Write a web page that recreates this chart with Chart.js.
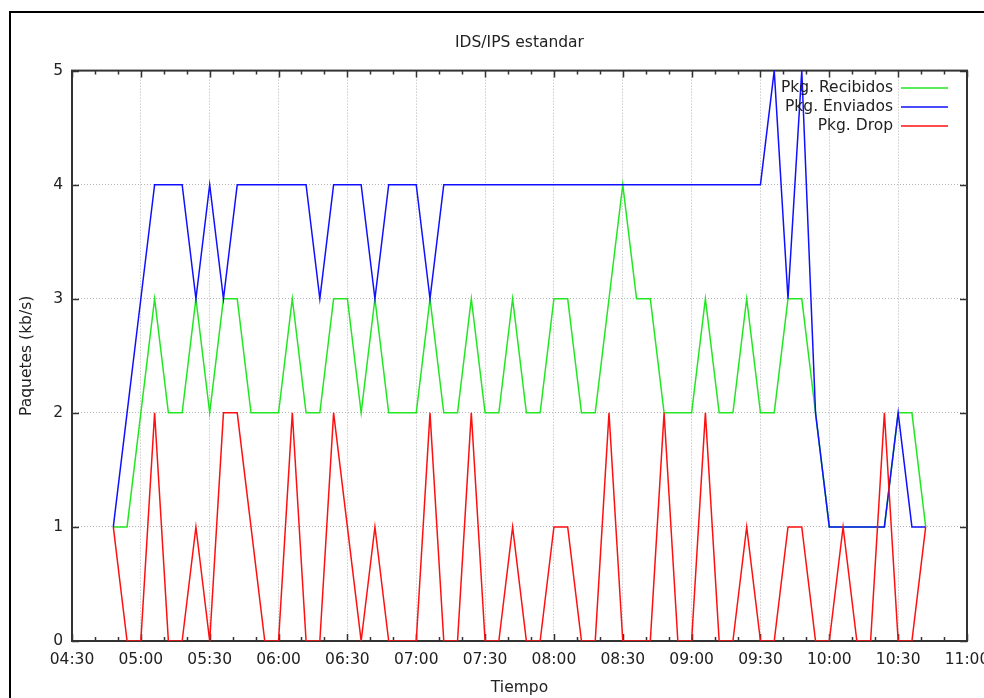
<!DOCTYPE html>
<html>
<head>
<meta charset="utf-8">
<title>IDS/IPS estandar</title>
<script src="https://cdn.jsdelivr.net/npm/chart.js@4/dist/chart.umd.min.js"></script>
<style>
  html, body { margin: 0; padding: 0; background: #ffffff; }
  canvas { display: block; }
</style>
</head>
<body>
<canvas id="grafico" width="984" height="698"></canvas>
<script>
// Muestras cada 6 minutos
const horas = [
  '04:48','04:54','05:00','05:06','05:12','05:18','05:24','05:30','05:36','05:42',
  '05:48','05:54','06:00','06:06','06:12','06:18','06:24','06:30','06:36','06:42',
  '06:48','06:54','07:00','07:06','07:12','07:18','07:24','07:30','07:36','07:42',
  '07:48','07:54','08:00','08:06','08:12','08:18','08:24','08:30','08:36','08:42',
  '08:48','08:54','09:00','09:06','09:12','09:18','09:24','09:30','09:36','09:42',
  '09:48','09:54','10:00','10:06','10:12','10:18','10:24','10:30','10:36','10:42'
];

const recibidos = [
  1,1,2,3,2,2,3,2,3,3,
  2,2,2,3,2,2,3,3,2,3,
  2,2,2,3,2,2,3,2,2,3,
  2,2,3,3,2,2,3,4,3,3,
  2,2,2,3,2,2,3,2,2,3,
  3,2,1,1,1,1,1,2,2,1
];

const enviados = [
  1,2,3,4,4,4,3,4,3,4,
  4,4,4,4,4,3,4,4,4,3,
  4,4,4,3,4,4,4,4,4,4,
  4,4,4,4,4,4,4,4,4,4,
  4,4,4,4,4,4,4,4,5,3,
  5,2,1,1,1,1,1,2,1,1
];

const drop = [
  1,0,0,2,0,0,1,0,2,2,
  1,0,0,2,0,0,2,1,0,1,
  0,0,0,2,0,0,2,0,0,1,
  0,0,1,1,0,0,2,0,0,0,
  2,0,0,2,0,0,1,0,0,1,
  1,0,0,1,0,0,2,0,0,1
];

const ejeXInicio = '04:30';
const ejeXFin = '11:00';
const pasoMayorX = 30;   // minutos entre etiquetas
const pasoMenorX = 10;   // minutos entre marcas menores
const ticksY = [0, 1, 2, 3, 4, 5];

const FUENTE = 'DejaVu Sans';
const TAM = 15.5;
const TEXTO = '#222222';

function aMinutos(h) {
  const [hh, mm] = h.split(':').map(Number);
  return hh * 60 + mm;
}
function aHora(m) {
  const hh = Math.floor(m / 60), mm = Math.round(m % 60);
  return String(hh).padStart(2, '0') + ':' + String(mm).padStart(2, '0');
}
const puntos = serie => horas.map((h, i) => ({ x: aMinutos(h), y: serie[i] }));

const xMin = aMinutos(ejeXInicio);
const xMax = aMinutos(ejeXFin);

// Marco exterior de la imagen
const marcoExterior = {
  id: 'marcoExterior',
  beforeDraw(chart) {
    const ctx = chart.ctx;
    ctx.save();
    ctx.fillStyle = '#ffffff';
    ctx.fillRect(0, 0, chart.width, chart.height);
    ctx.strokeStyle = '#000000';
    ctx.lineWidth = 2;
    ctx.beginPath();
    ctx.moveTo(10, chart.height);
    ctx.lineTo(10, 12);
    ctx.lineTo(chart.width, 12);
    ctx.stroke();
    ctx.restore();
  }
};

// Borde del área de trazado y marcas hacia dentro
const bordeYMarcas = {
  id: 'bordeYMarcas',
  beforeDatasetsDraw(chart) {
    const { ctx, chartArea: a, scales } = chart;
    const sx = scales.x, sy = scales.y;
    ctx.save();
    ctx.strokeStyle = '#333333';
    ctx.lineWidth = 1.5;
    ctx.beginPath();
    // marcas del eje X (arriba y abajo)
    for (let m = xMin; m <= xMax; m += pasoMenorX) {
      const px = Math.round(sx.getPixelForValue(m)) + 0.5;
      const largo = ((m - xMin) % pasoMayorX === 0) ? 7 : 4;
      ctx.moveTo(px, a.bottom);
      ctx.lineTo(px, a.bottom - largo);
      ctx.moveTo(px, a.top);
      ctx.lineTo(px, a.top + largo);
    }
    // marcas del eje Y (izquierda y derecha)
    ticksY.forEach(v => {
      const py = Math.round(sy.getPixelForValue(v)) + 0.5;
      ctx.moveTo(a.left, py);
      ctx.lineTo(a.left + 7, py);
      ctx.moveTo(a.right, py);
      ctx.lineTo(a.right - 7, py);
    });
    ctx.stroke();
    ctx.lineWidth = 2;
    ctx.strokeRect(a.left, a.top, a.right - a.left, a.bottom - a.top);
    ctx.restore();
  }
};

// Leyenda: texto alineado a la derecha seguido de la muestra de línea
const leyenda = {
  id: 'leyendaDerecha',
  afterDatasetsDraw(chart) {
    const { ctx, chartArea: a } = chart;
    ctx.save();
    ctx.font = TAM + 'px "' + FUENTE + '"';
    ctx.textAlign = 'right';
    ctx.textBaseline = 'middle';
    chart.data.datasets.forEach((ds, i) => {
      const y = a.top + 17 + i * 19;
      ctx.fillStyle = TEXTO;
      ctx.fillText(ds.label, a.right - 74, y);
      ctx.strokeStyle = ds.borderColor;
      ctx.lineWidth = ds.borderWidth;
      ctx.beginPath();
      ctx.moveTo(a.right - 66, y + 0.5);
      ctx.lineTo(a.right - 19, y + 0.5);
      ctx.stroke();
    });
    ctx.restore();
  }
};

Chart.defaults.font.family = FUENTE;
Chart.defaults.font.size = TAM;
Chart.defaults.color = TEXTO;

new Chart(document.getElementById('grafico'), {
  type: 'line',
  data: {
    datasets: [
      { label: 'Pkg. Recibidos', data: puntos(recibidos), borderColor: '#22e622', borderWidth: 1.5, order: 3 },
      { label: 'Pkg. Enviados',  data: puntos(enviados),  borderColor: '#1010ff', borderWidth: 1.5, order: 2 },
      { label: 'Pkg. Drop',      data: puntos(drop),      borderColor: '#ff1010', borderWidth: 1.5, order: 1 }
    ]
  },
  options: {
    responsive: false,
    animation: false,
    events: [],
    elements: {
      line: { tension: 0, fill: false },
      point: { radius: 0 }
    },
    layout: { padding: { left: 0, top: 0, right: 17, bottom: 0 } },
    plugins: {
      legend: { display: false },
      tooltip: { enabled: false },
      title: {
        display: true,
        text: 'IDS/IPS estandar',
        fullSize: false,
        color: TEXTO,
        font: { family: FUENTE, size: TAM, weight: 'normal' },
        padding: { top: 34, bottom: 18 }
      }
    },
    scales: {
      x: {
        type: 'linear',
        min: xMin,
        max: xMax,
        ticks: {
          stepSize: pasoMayorX,
          autoSkip: false,
          maxRotation: 0,
          padding: 10,
          color: TEXTO,
          callback: v => aHora(v)
        },
        grid: { color: '#b4b4b4', lineWidth: 1, drawTicks: false },
        border: { display: false, dash: [1, 2] },
        title: {
          display: true,
          text: 'Tiempo',
          color: TEXTO,
          font: { size: TAM },
          padding: { top: 0, bottom: 1 }
        },
        afterFit(scale) {
          scale.height = 57;
          scale.paddingLeft = 0;
          scale.paddingRight = 0;
        }
      },
      y: {
        min: 0,
        max: 5,
        afterBuildTicks(scale) {
          scale.ticks = ticksY.map(v => ({ value: v }));
        },
        ticks: { padding: 9, color: TEXTO },
        grid: { color: '#b4b4b4', lineWidth: 1, drawTicks: false },
        border: { display: false, dash: [1, 2] },
        title: {
          display: true,
          text: 'Paquetes (kb/s)',
          color: TEXTO,
          font: { size: TAM },
          padding: { top: 18, bottom: 0 }
        },
        afterFit(scale) {
          scale.width = 72;
          scale.paddingTop = 0;
          scale.paddingBottom = 0;
        }
      }
    }
  },
  plugins: [marcoExterior, bordeYMarcas, leyenda]
});
</script>
</body>
</html>
